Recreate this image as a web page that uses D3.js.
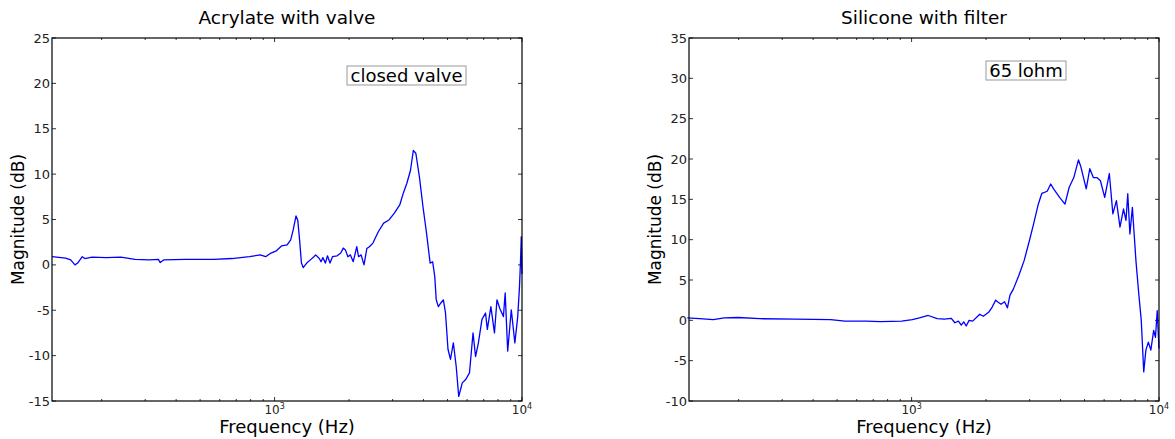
<!DOCTYPE html>
<html>
<head>
<meta charset="utf-8">
<script src="https://cdn.jsdelivr.net/npm/d3@7"></script>
<style>
body { margin: 0; background: #fff; }
text { font-family: "DejaVu Sans", Verdana, sans-serif; }
</style>
</head>
<body>
<div id="chart"></div>
<script>
// frequency (Hz) and magnitude (dB)
var acrylateFreq = [126, 143, 150, 156, 160, 167, 171, 183, 209, 239, 273, 312, 339, 345, 356, 435, 568, 671, 792, 875, 920, 967,
    1017, 1069, 1124, 1162, 1189, 1221, 1241, 1262, 1284, 1305, 1349, 1395, 1442, 1466, 1516, 1541, 1567, 1604, 1636, 1675, 1714,
    1790, 1851, 1895, 1933, 1978, 2025, 2079, 2149, 2185, 2237, 2298, 2360, 2416, 2497, 2625, 2759, 2900, 3049, 3205, 3313, 3425,
    3541, 3637, 3723, 3849, 3979, 4113, 4253, 4353, 4441, 4501, 4591, 4699, 4810, 4907, 5022, 5140, 5279, 5421, 5549, 5737, 5932,
    6134, 6339, 6490, 6664, 6890, 7122, 7242, 7486, 7739, 7921, 8135, 8410, 8551, 8753, 9051, 9357, 9610, 9770, 9867, 9934, 10000];
var acrylateMag = [0.9, 0.75, 0.55, 0.0, 0.2, 0.9, 0.7, 0.85, 0.8, 0.85, 0.6, 0.55, 0.6, 0.25, 0.55, 0.6, 0.6, 0.7, 0.9, 1.1, 0.9, 1.3,
    1.55, 2.1, 2.2, 2.75, 3.85, 5.4, 4.9, 2.75, 0.2, -0.3, 0.2, 0.55, 0.9, 1.1, 0.7, 0.35, 0.8, 0.2, 1.0, 0.2, 0.9,
    1.0, 1.3, 1.85, 1.65, 0.9, 1.1, 0.35, 2.0, 0.9, 1.1, 0.0, 1.8, 2.0, 2.4, 3.65, 4.6, 4.95, 5.7, 6.6, 7.9, 9.0,
    10.4, 12.6, 12.3, 9.7, 6.4, 3.5, 0.2, 0.35, -1.3, -3.85, -4.6, -4.2, -3.85, -5.3, -9.3, -10.4, -8.6, -11.2, -14.5, -13.0, -12.6,
    -11.9, -7.5, -10.1, -8.6, -6.0, -5.3, -7.1, -4.6, -7.5, -3.85, -4.8, -5.7, -3.1, -9.5, -4.95, -8.6, -5.7, -2.4, 0.55, 3.1, -1.0];

var siliconeFreq = [124, 139, 158, 175, 199, 243, 338, 471, 537, 655, 748, 912, 1007, 1075, 1168, 1269, 1355, 1447, 1496, 1546, 1588,
    1625, 1663, 1708, 1765, 1886, 1949, 2048, 2117, 2188, 2239, 2299, 2376, 2440, 2497, 2581, 2713, 2850, 2995, 3115, 3252, 3362,
    3533, 3651, 3749, 3966, 4168, 4335, 4526, 4725, 4836, 5081, 5252, 5428, 5611, 5798, 6033, 6298, 6510, 6728, 6954, 7186, 7355,
    7478, 7628, 7806, 7936, 8068, 8284, 8478, 8676, 8850, 9057, 9268, 9517, 9676, 9836, 10000];
var siliconeMag = [0.3, 0.2, 0.1, 0.3, 0.35, 0.2, 0.15, 0.1, -0.1, -0.1, -0.15, -0.1, 0.1, 0.3, 0.6, 0.2, 0.15, 0.25, -0.3, -0.1, -0.6,
    -0.2, -0.7, 0.0, -0.1, 0.75, 0.5, 1.0, 1.65, 2.5, 2.25, 2.0, 2.3, 1.55, 3.1, 3.9, 5.55, 7.4, 9.9, 12.0, 14.4, 15.75,
    16.0, 16.9, 16.3, 15.25, 14.4, 16.5, 17.7, 19.9, 19.0, 16.3, 18.8, 17.7, 17.7, 17.3, 15.25, 18.2, 13.2, 14.85, 11.55, 13.8, 12.4,
    15.7, 10.7, 14.0, 10.7, 7.4, 3.3, 0.0, -6.4, -3.7, -2.7, -3.7, -1.25, -2.1, 1.2, -3.5];

var xDomain = [126, 10000];

var panels = [
    { title: "Acrylate with valve", note: "closed valve", freq: acrylateFreq, mag: acrylateMag,
      yDomain: [-15, 25], yTicks: [-15, -10, -5, 0, 5, 10, 15, 20, 25], left: 52, noteBox: [347, 66, 119, 19] },
    { title: "Silicone with filter", note: "65 lohm", freq: siliconeFreq, mag: siliconeMag,
      yDomain: [-10, 35], yTicks: [-10, -5, 0, 5, 10, 15, 20, 25, 30, 35], left: 689, noteBox: [986, 61, 80, 19] }
];

var W = 1175, H = 439;
var plotW = 470, plotTop = 38, plotH = 363;

var svg = d3.select("#chart").append("svg")
    .attr("width", W)
    .attr("height", H);

panels.forEach(function(p) {
    var g = svg.append("g").attr("transform", "translate(" + p.left + "," + plotTop + ")");

    var x = d3.scaleLog().domain(xDomain).range([0, plotW]);
    var y = d3.scaleLinear().domain(p.yDomain).range([plotH, 0]);

    var xt = x.ticks().filter(d => d > xDomain[0] && d <= xDomain[1]);
    var major = xt.filter(d => Math.abs(Math.log10(d) % 1) < 1e-9);
    var minor = xt.filter(d => major.indexOf(d) < 0);

    // ticks pointing inward, all four sides
    [["bottom", plotH], ["top", 0]].forEach(function(s) {
        var sign = s[0] == "bottom" ? -1 : 1;
        g.append("g").selectAll("line").data(minor).enter().append("line")
            .attr("x1", d => x(d)).attr("x2", d => x(d))
            .attr("y1", s[1]).attr("y2", s[1] + sign * 2)
            .attr("stroke", "#000").attr("stroke-width", 0.8);
        g.append("g").selectAll("line").data(major).enter().append("line")
            .attr("x1", d => x(d)).attr("x2", d => x(d))
            .attr("y1", s[1]).attr("y2", s[1] + sign * 4)
            .attr("stroke", "#000").attr("stroke-width", 0.8);
    });
    [0, plotW].forEach(function(px) {
        var sign = px == 0 ? 1 : -1;
        g.append("g").selectAll("line").data(p.yTicks).enter().append("line")
            .attr("x1", px).attr("x2", px + sign * 4)
            .attr("y1", d => y(d)).attr("y2", d => y(d))
            .attr("stroke", "#000").attr("stroke-width", 0.8);
    });

    // tick labels
    g.append("g").selectAll("text").data(p.yTicks).enter().append("text")
        .attr("x", -2).attr("y", d => y(d)).attr("dy", "0.35em")
        .attr("text-anchor", "end").attr("font-size", 13).attr("fill", "#222")
        .text(d => d);
    var xl = g.append("g").selectAll("text").data(major).enter().append("text")
        .attr("x", d => x(d)).attr("y", plotH + 13)
        .attr("text-anchor", "middle").attr("font-size", 12).attr("fill", "#222");
    xl.append("tspan").text("10");
    xl.append("tspan").attr("dy", -5).attr("font-size", 8).text(d => Math.round(Math.log10(d)));

    // data line
    var pts = p.freq.map((f, i) => [f, p.mag[i]]);
    g.append("path")
        .datum(pts)
        .attr("fill", "none")
        .attr("stroke", "#0000ff")
        .attr("stroke-width", 1.3)
        .attr("stroke-linejoin", "round")
        .attr("d", d3.line().x(d => x(d[0])).y(d => y(d[1])));

    // frame
    g.append("rect")
        .attr("width", plotW).attr("height", plotH)
        .attr("fill", "none").attr("stroke", "#000").attr("stroke-width", 1.2);

    // titles
    g.append("text")
        .attr("x", plotW / 2).attr("y", -14)
        .attr("text-anchor", "middle").attr("font-size", 18.5)
        .text(p.title);
    g.append("text")
        .attr("x", plotW / 2).attr("y", plotH + 32)
        .attr("text-anchor", "middle").attr("font-size", 18)
        .text("Frequency (Hz)");
    g.append("text")
        .attr("transform", "translate(-28," + plotH / 2 + ") rotate(-90)")
        .attr("text-anchor", "middle").attr("font-size", 17)
        .text("Magnitude (dB)");

    // note box
    var nb = p.noteBox;
    svg.append("rect")
        .attr("x", nb[0]).attr("y", nb[1]).attr("width", nb[2]).attr("height", nb[3])
        .attr("fill", "#fff").attr("stroke", "#999").attr("stroke-width", 1);
    svg.append("text")
        .attr("x", nb[0] + nb[2] / 2).attr("y", nb[1] + nb[3] / 2).attr("dy", "0.36em")
        .attr("text-anchor", "middle").attr("font-size", 18)
        .text(p.note);
});
</script>
</body>
</html>
